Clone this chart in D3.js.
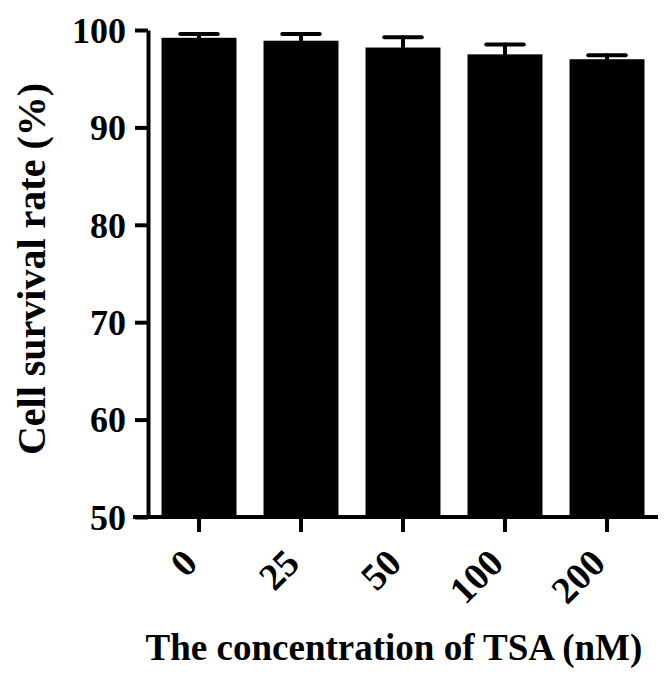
<!DOCTYPE html>
<html>
<head>
<meta charset="utf-8">
<script src="https://cdn.jsdelivr.net/npm/d3@7"></script>
<style>
  body { margin: 0; background: #fff; }
  svg text { font-family: "Liberation Serif", "Times New Roman", serif; font-weight: bold; fill: #000; }
</style>
</head>
<body>
<div id="chart"></div>
<script>
const width = 669;
const height = 674;

// data
const concentrations = ["0", "25", "50", "100", "200"];
const survival = [99.2, 98.9, 98.2, 97.5, 97.0];
const sd = [0.4, 0.7, 1.05, 1.0, 0.4];
const yTicks = [50, 60, 70, 80, 90, 100];

const margin = {top: 30, right: 11, bottom: 157, left: 148};

const svg = d3.select("#chart")
  .append("svg")
    .attr("width", width)
    .attr("height", height);

const x = d3.scaleBand()
  .domain(concentrations)
  .range([margin.left, width - margin.right])
  .paddingInner(0.265)
  .paddingOuter(0.1325);

const y = d3.scaleLinear()
  .domain([50, 100])
  .range([height - margin.bottom, margin.top]);

const rows = concentrations.map((c, i) => ({c: c, v: survival[i], e: sd[i]}));

// bars
svg.selectAll(".bar")
  .data(rows)
  .join("rect")
    .attr("class", "bar")
    .attr("x", d => x(d.c))
    .attr("y", d => y(d.v))
    .attr("width", x.bandwidth())
    .attr("height", d => y(50) - y(d.v))
    .attr("fill", "#000");

// error bars (upper only)
const err = svg.selectAll(".err")
  .data(rows)
  .join("g")
    .attr("class", "err")
    .attr("stroke", "#000")
    .attr("stroke-width", 4)
    .attr("stroke-linecap", "round");

err.append("line")
  .attr("x1", d => x(d.c) + x.bandwidth() / 2)
  .attr("x2", d => x(d.c) + x.bandwidth() / 2)
  .attr("y1", d => y(d.v))
  .attr("y2", d => y(d.v + d.e));

err.append("line")
  .attr("x1", d => x(d.c) + x.bandwidth() / 4)
  .attr("x2", d => x(d.c) + x.bandwidth() * 3 / 4)
  .attr("y1", d => y(d.v + d.e))
  .attr("y2", d => y(d.v + d.e));

// y axis
const yAxis = svg.append("g")
  .attr("transform", `translate(${margin.left},0)`)
  .call(d3.axisLeft(y).tickValues(yTicks).tickSize(13).tickPadding(9).tickSizeOuter(0));
yAxis.select(".domain").attr("stroke-width", 4);
yAxis.selectAll(".tick line").attr("stroke-width", 4);
yAxis.selectAll(".tick text").style("font-size", "36px").attr("dy", "0.34em");

// x axis
const xAxis = svg.append("g")
  .attr("transform", `translate(0,${height - margin.bottom})`)
  .call(d3.axisBottom(x).tickSize(15).tickSizeOuter(0));
xAxis.select(".domain").attr("stroke-width", 4).attr("d", `M${margin.left - 15},0H${width - margin.right}`);
xAxis.selectAll(".tick line").attr("stroke-width", 4);
xAxis.selectAll(".tick text")
  .style("font-size", "38px")
  .attr("text-anchor", "end")
  .attr("dy", "0.35em")
  .attr("transform", "translate(-9,39) rotate(-45)")
  .attr("x", 0)
  .attr("y", 0);

// axis titles
svg.append("text")
  .attr("transform", `translate(45,269) rotate(-90)`)
  .attr("text-anchor", "middle")
  .style("font-size", "40px")
  .text("Cell survival rate (%)");

svg.append("text")
  .attr("x", 394)
  .attr("y", 660)
  .attr("text-anchor", "middle")
  .style("font-size", "37px")
  .text("The concentration of TSA (nM)");
</script>
</body>
</html>
